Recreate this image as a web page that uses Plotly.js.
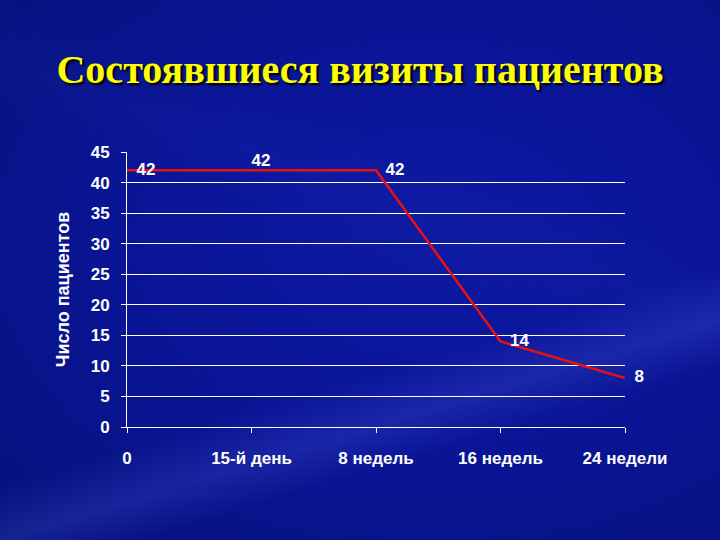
<!DOCTYPE html>
<html>
<head>
<meta charset="utf-8">
<script src="https://cdn.plot.ly/plotly-3.0.1.min.js"></script>
<style>
  html, body { margin: 0; padding: 0; }
  body {
    width: 720px; height: 540px; overflow: hidden;
    background:
      linear-gradient(163deg, rgba(0,0,0,0) 64%, rgba(80,100,230,0.22) 71%, rgba(0,0,0,0) 77%),
      linear-gradient(200deg, rgba(0,0,0,0) 32%, rgba(50,70,200,0.07) 40%, rgba(0,0,0,0) 48%),
      radial-gradient(ellipse at 60% 45%, #0c19a2 0%, #0a1596 50%, #07107a 100%);
  }
  #chart { width: 720px; height: 540px; }
</style>
</head>
<body>
<div id="chart"></div>
<script>
// visit timepoints and number of patients who came
const timepoints = ["0", "15-й день", "8 недель", "16 недель", "24 недели"];
const patients = [42, 42, 42, 14, 8];
const labelPositions = ["middle right", "top right", "middle right", "middle right", "middle right"];
const yTicks = [0, 5, 10, 15, 20, 25, 30, 35, 40, 45];

const tickFont = { family: "Arial, Liberation Sans, sans-serif", size: 17, color: "white", weight: "bold" };

// small gap between point and its label (the label above the line needs none)
const pad = "\u00a0\u00a0";

const trace = {
  type: "scatter",
  mode: "lines+text",
  x: timepoints,
  y: patients,
  text: patients.map((v, i) => (labelPositions[i] === "middle right" ? pad : "") + v),
  textposition: labelPositions,
  textfont: tickFont,
  line: { color: "#e81010", width: 2.5 },
  cliponaxis: false,
  hoverinfo: "none"
};

const layout = {
  width: 720,
  height: 540,
  paper_bgcolor: "rgba(0,0,0,0)",
  plot_bgcolor: "rgba(0,0,0,0)",
  margin: { t: 152, b: 113, l: 127, r: 95 },
  showlegend: false,
  title: {
    text: "Состоявшиеся визиты пациентов",
    font: {
      family: "Times New Roman, Liberation Serif, serif",
      size: 40,
      color: "#ffff00",
      weight: "bold",
      shadow: "2px 2px 2px #000000"
    },
    x: 0.5,
    xanchor: "center",
    yref: "container",
    y: 1 - 69 / 540,
    yanchor: "middle"
  },
  xaxis: {
    type: "category",
    range: [0, timepoints.length - 1],
    showgrid: false,
    zeroline: false,
    showline: true,
    linecolor: "white",
    linewidth: 1,
    ticks: "outside",
    ticklen: 5,
    tickcolor: "white",
    tickfont: tickFont,
    ticklabelstandoff: 11
  },
  yaxis: {
    range: [0, 45],
    tickvals: yTicks,
    showgrid: true,
    gridcolor: "white",
    gridwidth: 1,
    zeroline: false,
    showline: true,
    linecolor: "white",
    linewidth: 1,
    ticks: "outside",
    ticklen: 5,
    tickcolor: "white",
    tickfont: tickFont,
    ticklabelstandoff: 8,
    title: {
      text: "Число пациентов",
      font: { family: "Arial, Liberation Sans, sans-serif", size: 18, color: "white", weight: "bold" },
      standoff: 16
    }
  }
};

Plotly.newPlot("chart", [trace], layout, { displayModeBar: false, staticPlot: true });
</script>
</body>
</html>
